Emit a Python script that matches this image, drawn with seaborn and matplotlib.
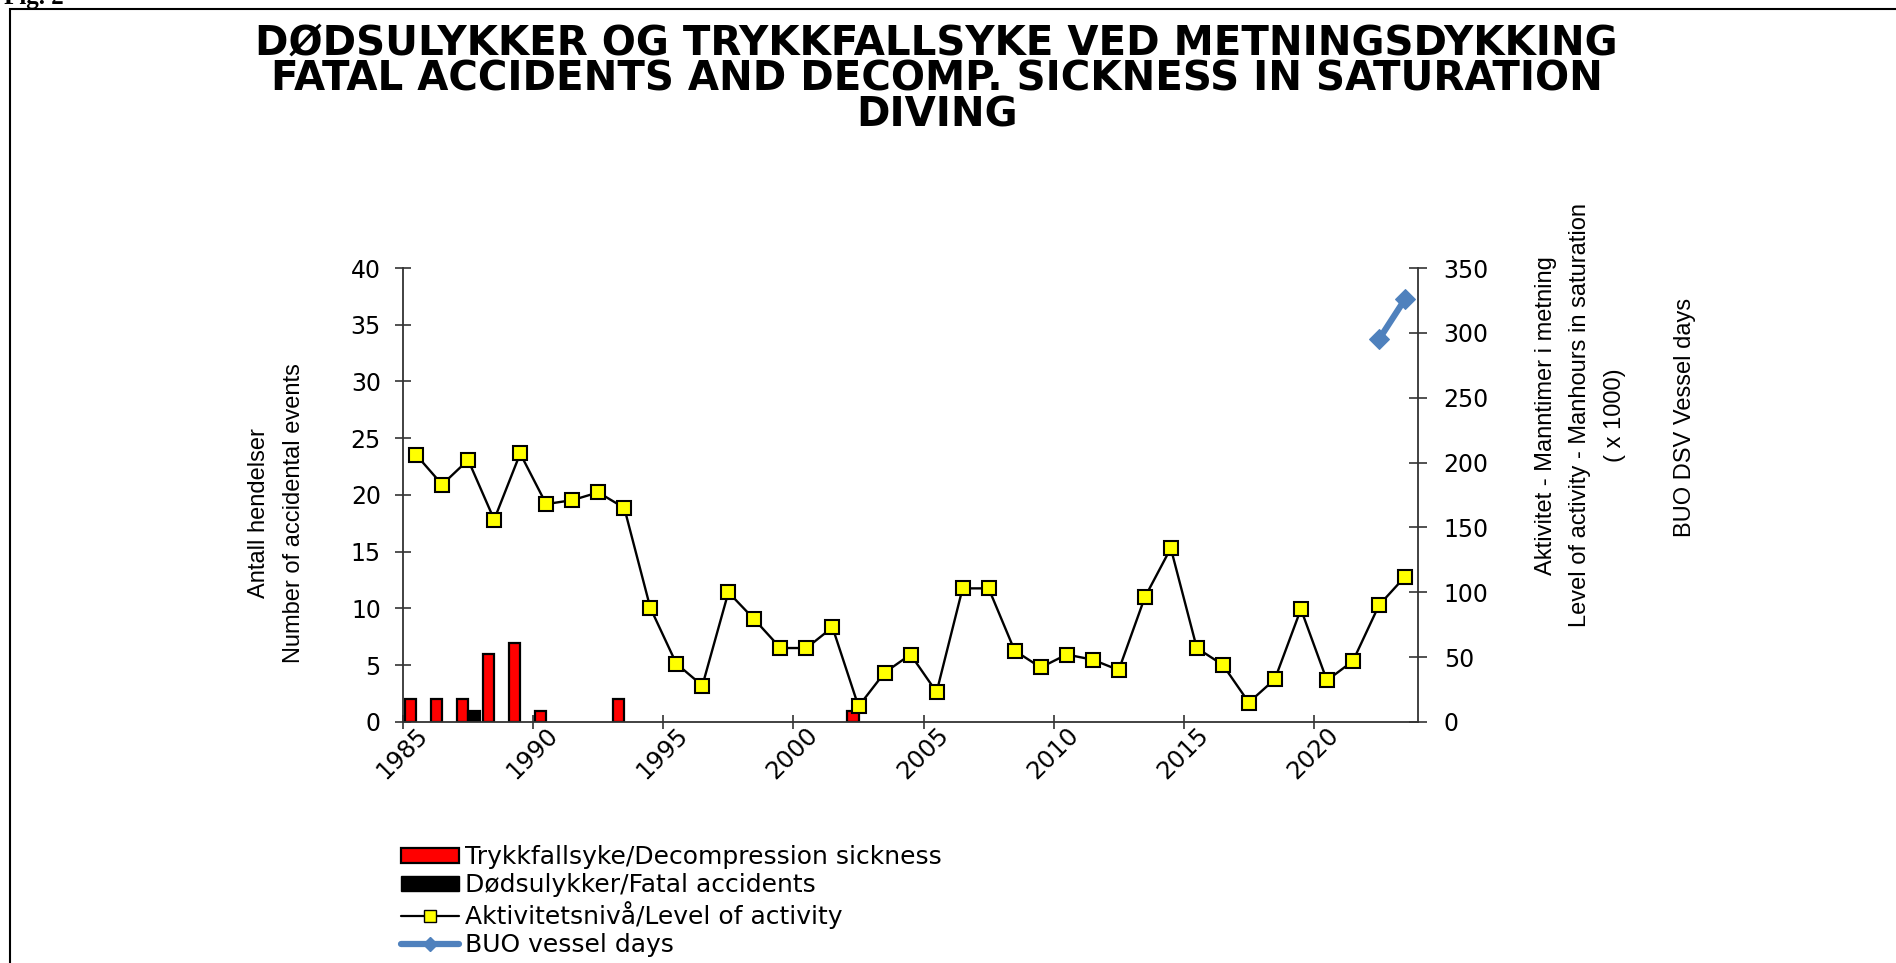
import numpy as np
import pandas as pd
import matplotlib
matplotlib.use("Agg")
import matplotlib.pyplot as plt
import matplotlib.transforms as mtrans
from matplotlib.patches import Rectangle, Patch
from matplotlib.lines import Line2D
import seaborn as sns

# Data
years = list(range(1985, 2024))
activity = [206, 183, 202, 156, 207, 168, 171, 177, 165, 88,
            45, 28, 100, 79, 57, 57, 73, 12, 38, 52,
            23, 103, 103, 55, 42, 52, 48, 40, 96, 134,
            57, 44, 15, 33, 87, 32, 47, 90, 112]
decomp_years = [1985, 1986, 1987, 1988, 1989, 1990, 1993, 2002]
decomp = [2, 2, 2, 6, 7, 1, 2, 1]
fatal_years = [1987]
fatal = [1]
buo_years = [2022, 2023]
buo = [295, 326]

lab_decomp = "Trykkfallsyke/Decompression sickness"
lab_fatal = "Dødsulykker/Fatal accidents"
lab_act = "Aktivitetsnivå/Level of activity"
lab_buo = "BUO vessel days"
x_tick_years = [1985, 1990, 1995, 2000, 2005, 2010, 2015, 2020]

sns.set_theme(style="white")
plt.rcParams["font.family"] = ["DejaVu Sans"]
for k in ("text.color", "axes.labelcolor", "xtick.color", "ytick.color"):
    plt.rcParams[k] = "black"
narrow = ["Liberation Sans Narrow", "Liberation Sans", "DejaVu Sans"]

df_bars = pd.concat([
    pd.DataFrame({"year": decomp_years, "count": decomp, "kind": lab_decomp}),
    pd.DataFrame({"year": fatal_years, "count": fatal, "kind": lab_fatal}),
])

fig = plt.figure(figsize=(18.96, 9.63), dpi=100)
ax = fig.add_axes([0.2126, 0.2503, 0.5353, 0.4714])

sns.barplot(data=df_bars, x="year", y="count", hue="kind",
            hue_order=[lab_decomp, lab_fatal],
            palette=["#FF0000", "#000000"], saturation=1, native_scale=True,
            width=0.88, errorbar=None, edgecolor="black", linewidth=1.6,
            legend=False, ax=ax)

ax2 = ax.twinx()
sns.lineplot(x=years, y=activity, ax=ax2, color="black", lw=1.7,
             marker="s", markersize=10, markerfacecolor="#FFFF00",
             markeredgecolor="black", markeredgewidth=1.5)
sns.lineplot(x=buo_years, y=buo, ax=ax2, color="#4F81BD", lw=4.5,
             marker="D", markersize=10, markerfacecolor="#4F81BD",
             markeredgecolor="#4F81BD")

# axes limits and ticks
ax.set_xlim(years[0] - 0.5, years[-1] + 0.5)
ax.set_ylim(0, 40)
ax.set_yticks(range(0, 41, 5))
ax2.set_ylim(0, 350)
ax2.set_yticks(range(0, 351, 50))
ax.set_xticks([y - 0.5 for y in x_tick_years])
ax.set_xticklabels([str(y) for y in x_tick_years])

spine_c = "#333333"
for a in (ax, ax2):
    for s in a.spines.values():
        s.set_visible(False)
ax.spines["left"].set_visible(True)
ax.spines["bottom"].set_visible(True)
ax2.spines["right"].set_visible(True)
for s in (ax.spines["left"], ax.spines["bottom"], ax2.spines["right"]):
    s.set_color(spine_c)
    s.set_linewidth(1.3)

ax.tick_params(axis="y", direction="inout", length=12, width=1.2,
               color=spine_c, labelsize=17, pad=10, left=True)
ax.tick_params(axis="x", direction="inout", length=10, width=1.2,
               color=spine_c, labelsize=17.5, pad=2, bottom=True)
ax2.tick_params(axis="y", direction="inout", length=13, width=1.2,
                color=spine_c, labelsize=17, pad=12, right=True)
ax.grid(False)
ax2.grid(False)

offset = mtrans.ScaledTranslation(0.21, 0, fig.dpi_scale_trans)
for lab in ax.get_xticklabels():
    lab.set_rotation(45)
    lab.set_ha("right")
    lab.set_va("center")
    lab.set_rotation_mode("anchor")
    lab.set_transform(lab.get_transform() + offset)

ax.set_xlabel("")
ax.set_ylabel("Antall hendelser\nNumber of accidental events",
              fontsize=17, family=narrow, linespacing=1.75)
ax.yaxis.label.set_va("center")
ax.yaxis.set_label_coords(-0.125, 0.46)
ax2.set_ylabel("Aktivitet - Manntimer i metning\n"
               "Level of activity - Manhours in saturation\n( x 1000)",
               fontsize=17, family=narrow, linespacing=1.75, rotation=90)
ax2.yaxis.label.set_va("center")
ax2.yaxis.set_label_coords(1.16, 0.676)
ax2.text(1.263, 0.67, "BUO DSV Vessel days", transform=ax2.transAxes,
         rotation=90, ha="center", va="center", fontsize=17, family=narrow)

# title
fig.text(0.494, 1 - 24 / 963,
         "DØDSULYKKER OG TRYKKFALLSYKE VED METNINGSDYKKING\n"
         "FATAL ACCIDENTS AND DECOMP. SICKNESS IN SATURATION\nDIVING",
         ha="center", va="top", fontsize=29, fontweight="bold",
         linespacing=0.86)

# legend
handles = [
    Patch(facecolor="#FF0000", edgecolor="black", linewidth=1.6),
    Patch(facecolor="black", edgecolor="black"),
    Line2D([], [], color="black", lw=1.6, marker="s", markersize=9,
           markerfacecolor="#FFFF00", markeredgecolor="black"),
    Line2D([], [], color="#4F81BD", lw=4.5, marker="D", markersize=7),
]
fig.legend(handles, [lab_decomp, lab_fatal, lab_act, lab_buo],
           loc="upper left", bbox_to_anchor=(401 / 1896, 1 - 845 / 963),
           frameon=False, fontsize=18, borderpad=0, borderaxespad=0,
           handlelength=2.3, handleheight=0.55, handletextpad=0.25,
           labelspacing=0.16)

# outer frame and clipped figure caption
fig.add_artist(Rectangle((10 / 1896, -0.1), 1.2, 1.1 - 9 / 963,
                         transform=fig.transFigure, fill=False,
                         edgecolor="black", linewidth=1.5))
fig.text(0.002, 1 - 4 / 963, "Fig. 2", ha="left", va="baseline",
         fontsize=18, fontweight="bold", family=["Liberation Serif", "DejaVu Serif"])

plt.savefig("out.png", dpi=100)
